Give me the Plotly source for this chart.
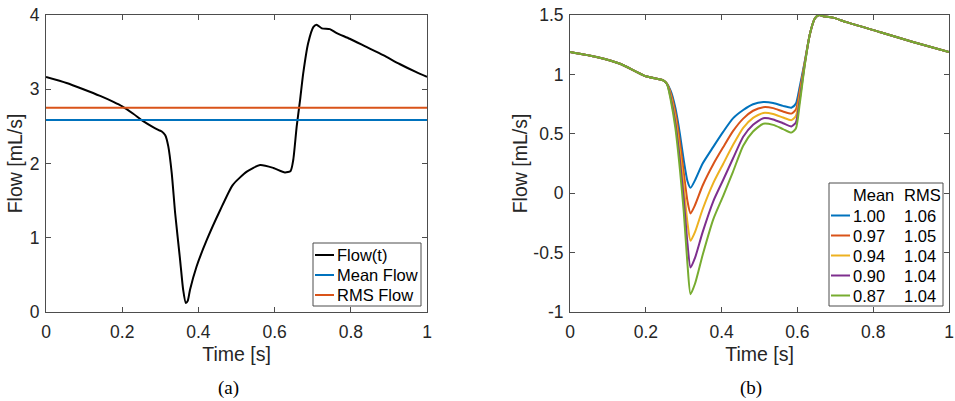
import plotly.graph_objects as go

# ---------------- data ----------------
# panel (a)
t_a = [0, 0.054, 0.098, 0.142, 0.177, 0.2, 0.229, 0.255, 0.281, 0.296, 0.304, 0.313, 0.321,
       0.33, 0.339, 0.352, 0.36, 0.367, 0.372, 0.378, 0.395, 0.422, 0.457, 0.49, 0.527, 0.562,
       0.597, 0.627, 0.642, 0.649, 0.658, 0.667, 0.675, 0.688, 0.702, 0.71, 0.724, 0.745, 0.762,
       0.797, 0.841, 0.885, 0.928, 0.972, 1.0]
flow_a = [3.166, 3.085, 3.0, 2.91, 2.83, 2.77, 2.67, 2.57, 2.49, 2.45, 2.43, 2.38, 2.23,
          1.87, 1.33, 0.70, 0.30, 0.12, 0.15, 0.30, 0.61, 0.97, 1.37, 1.71, 1.89, 1.98,
          1.94, 1.88, 1.90, 2.05, 2.50, 2.86, 3.21, 3.62, 3.84, 3.87, 3.82, 3.81, 3.76,
          3.68, 3.57, 3.46, 3.34, 3.23, 3.166]
t_span = [0, 1]
mean_flow = [2.586, 2.586]
rms_flow = [2.75, 2.75]
legend_a = ["Flow(t)", "Mean Flow", "RMS Flow"]

# panel (b)
t_b = [0, 0.07, 0.132, 0.2, 0.246, 0.256, 0.266, 0.278, 0.29, 0.30, 0.31, 0.318, 0.33, 0.35,
       0.378, 0.404, 0.43, 0.457, 0.483, 0.51, 0.536, 0.562, 0.584, 0.596, 0.606, 0.62, 0.633,
       0.646, 0.657, 0.668, 0.694, 0.729, 0.817, 0.905, 1.0]
flow_100 = [1.189, 1.147, 1.09, 0.984, 0.95, 0.92, 0.86, 0.72, 0.50, 0.28, 0.10, 0.045, 0.11, 0.25,
            0.39, 0.516, 0.63, 0.70, 0.749, 0.768, 0.76, 0.735, 0.72, 0.754, 0.895, 1.12, 1.34,
            1.47, 1.5, 1.49, 1.478, 1.44, 1.357, 1.273, 1.189]
flow_097 = [1.189, 1.147, 1.09, 0.984, 0.95, 0.92, 0.841, 0.679, 0.428, 0.177, -0.068, -0.17, -0.099, 0.065,
            0.244, 0.386, 0.522, 0.628, 0.694, 0.724, 0.716, 0.688, 0.67, 0.704, 0.86, 1.113, 1.34,
            1.47, 1.5, 1.49, 1.478, 1.44, 1.357, 1.273, 1.189]
flow_094 = [1.189, 1.147, 1.09, 0.984, 0.95, 0.92, 0.82, 0.635, 0.35, 0.065, -0.25, -0.40, -0.325, -0.135,
            0.085, 0.246, 0.405, 0.55, 0.634, 0.676, 0.667, 0.637, 0.615, 0.649, 0.822, 1.105, 1.34,
            1.47, 1.5, 1.49, 1.478, 1.44, 1.357, 1.273, 1.189]
flow_090 = [1.189, 1.147, 1.09, 0.984, 0.95, 0.92, 0.80, 0.592, 0.275, -0.043, -0.425, -0.626, -0.543, -0.328,
            -0.068, 0.111, 0.292, 0.475, 0.576, 0.631, 0.621, 0.589, 0.562, 0.596, 0.786, 1.097, 1.34,
            1.47, 1.5, 1.49, 1.478, 1.44, 1.357, 1.273, 1.189]
flow_087 = [1.189, 1.147, 1.09, 0.984, 0.95, 0.92, 0.78, 0.55, 0.20, -0.15, -0.60, -0.85, -0.76, -0.52,
            -0.22, -0.024, 0.18, 0.40, 0.519, 0.585, 0.575, 0.54, 0.51, 0.544, 0.75, 1.09, 1.34,
            1.47, 1.5, 1.49, 1.478, 1.44, 1.357, 1.273, 1.189]
mean_vals = ["1.00", "0.97", "0.94", "0.90", "0.87"]
rms_vals = ["1.06", "1.05", "1.04", "1.04", "1.04"]
legend_b_header = ["Mean", "RMS"]

x_ticks = [0, 0.2, 0.4, 0.6, 0.8, 1]
x_ticktext = ["0", "0.2", "0.4", "0.6", "0.8", "1"]
ya_ticks = [0, 1, 2, 3, 4]
ya_ticktext = ["0", "1", "2", "3", "4"]
yb_ticks = [-1, -0.5, 0, 0.5, 1, 1.5]
yb_ticktext = ["-1", "-0.5", "0", "0.5", "1", "1.5"]

# ---------------- style ----------------
W, H = 955, 401
SANS = "Liberation Sans, Arial, sans-serif"
SERIF = "Liberation Serif, Times New Roman, serif"
AX = "#262626"
AXLINE = "#4d4d4d"
COLORS = ["#0072BD", "#D95319", "#EDB120", "#7E2F8E", "#77AC30"]
TICK_SIZE = 17.5
TITLE_SIZE = 19.5
LEG_SIZE = 16.5


def px_x(p):
    return p / W


def px_y(p):
    return 1 - p / H


fig = go.Figure()

# panel (a)
fig.add_trace(go.Scatter(x=t_a, y=flow_a, mode="lines", name=legend_a[0],
                         line=dict(color="black", width=2, shape="spline", smoothing=0.6),
                         xaxis="x", yaxis="y"))
fig.add_trace(go.Scatter(x=t_span, y=mean_flow, mode="lines", name=legend_a[1],
                         line=dict(color=COLORS[0], width=2), xaxis="x", yaxis="y"))
fig.add_trace(go.Scatter(x=t_span, y=rms_flow, mode="lines", name=legend_a[2],
                         line=dict(color=COLORS[1], width=2), xaxis="x", yaxis="y"))

# panel (b)
series_b = [flow_100, flow_097, flow_094, flow_090, flow_087]
for i, ys in enumerate(series_b):
    fig.add_trace(go.Scatter(x=t_b, y=ys, mode="lines",
                             name=mean_vals[i] + " " + rms_vals[i],
                             line=dict(color=COLORS[i], width=2, shape="spline", smoothing=0.6),
                             xaxis="x2", yaxis="y2"))

axis_common = dict(
    showline=True, linecolor=AXLINE, linewidth=1, mirror="allticks",
    ticks="inside", ticklen=5, tickwidth=1, tickcolor=AXLINE,
    showgrid=False, zeroline=False, automargin=False,
    tickfont=dict(family=SANS, size=TICK_SIZE, color=AX),
)
xaxis_extra = dict(ticklabelstandoff=4)
yaxis_extra = dict(ticklabelstandoff=2)

ydom = [px_y(312), px_y(15)]

# ---- hand-built legends (MATLAB style: short line samples, tight rows) ----
shapes = []
annotations = []


def label(text, x, y, size=LEG_SIZE, family=SANS, xanchor="left"):
    return dict(text=text, x=px_x(x), y=px_y(y), xref="paper", yref="paper",
                xanchor=xanchor, yanchor="middle", showarrow=False,
                font=dict(family=family, size=size, color="black"))


# legend (a)
shapes.append(dict(type="rect", xref="paper", yref="paper",
                   x0=px_x(313), x1=px_x(421), y0=px_y(306), y1=px_y(243),
                   line=dict(color=AXLINE, width=1), fillcolor="white", layer="above"))
leg_a_colors = ["black", COLORS[0], COLORS[1]]
for i, name in enumerate(legend_a):
    yc = 255 + 20 * i
    shapes.append(dict(type="line", xref="paper", yref="paper",
                       x0=px_x(315), x1=px_x(334), y0=px_y(yc), y1=px_y(yc),
                       line=dict(color=leg_a_colors[i], width=2), layer="above"))
    annotations.append(label(name, 335, yc))

# legend (b)
shapes.append(dict(type="rect", xref="paper", yref="paper",
                   x0=px_x(829), x1=px_x(943), y0=px_y(306), y1=px_y(183),
                   line=dict(color=AXLINE, width=1), fillcolor="white", layer="above"))
annotations.append(label(legend_b_header[0], 851, 195))
annotations.append(label(legend_b_header[1], 902, 195))
for i in range(len(mean_vals)):
    yc = 215.5 + 20 * i
    shapes.append(dict(type="line", xref="paper", yref="paper",
                       x0=px_x(831), x1=px_x(850), y0=px_y(yc), y1=px_y(yc),
                       line=dict(color=COLORS[i], width=2), layer="above"))
    annotations.append(label(mean_vals[i], 851, yc))
    annotations.append(label(rms_vals[i], 902, yc))

# captions
annotations.append(label("(a)", 228, 388, size=19, family=SERIF, xanchor="center"))
annotations.append(label("(b)", 751, 388, size=19, family=SERIF, xanchor="center"))

fig.update_layout(
    width=W, height=H,
    margin=dict(l=0, r=0, t=0, b=0, autoexpand=False),
    paper_bgcolor="white", plot_bgcolor="white",
    showlegend=False,
    xaxis=dict(domain=[px_x(46), px_x(427)], range=[0, 1], anchor="y",
               tickvals=x_ticks, ticktext=x_ticktext,
               title=dict(text="Time [s]", font=dict(family=SANS, size=TITLE_SIZE, color=AX), standoff=6),
               **axis_common, **xaxis_extra),
    yaxis=dict(domain=ydom, range=[0, 4], anchor="x",
               tickvals=ya_ticks, ticktext=ya_ticktext,
               title=dict(text="Flow [mL/s]", font=dict(family=SANS, size=TITLE_SIZE, color=AX), standoff=1),
               **axis_common, **yaxis_extra),
    xaxis2=dict(domain=[px_x(570), px_x(949)], range=[0, 1], anchor="y2",
                tickvals=x_ticks, ticktext=x_ticktext,
                title=dict(text="Time [s]", font=dict(family=SANS, size=TITLE_SIZE, color=AX), standoff=6),
                **axis_common, **xaxis_extra),
    yaxis2=dict(domain=ydom, range=[-1, 1.5], anchor="x2",
                tickvals=yb_ticks, ticktext=yb_ticktext,
                title=dict(text="Flow [mL/s]", font=dict(family=SANS, size=TITLE_SIZE, color=AX), standoff=0),
                **axis_common, **yaxis_extra),
    shapes=shapes,
    annotations=annotations,
)

fig.write_html("out.html")
